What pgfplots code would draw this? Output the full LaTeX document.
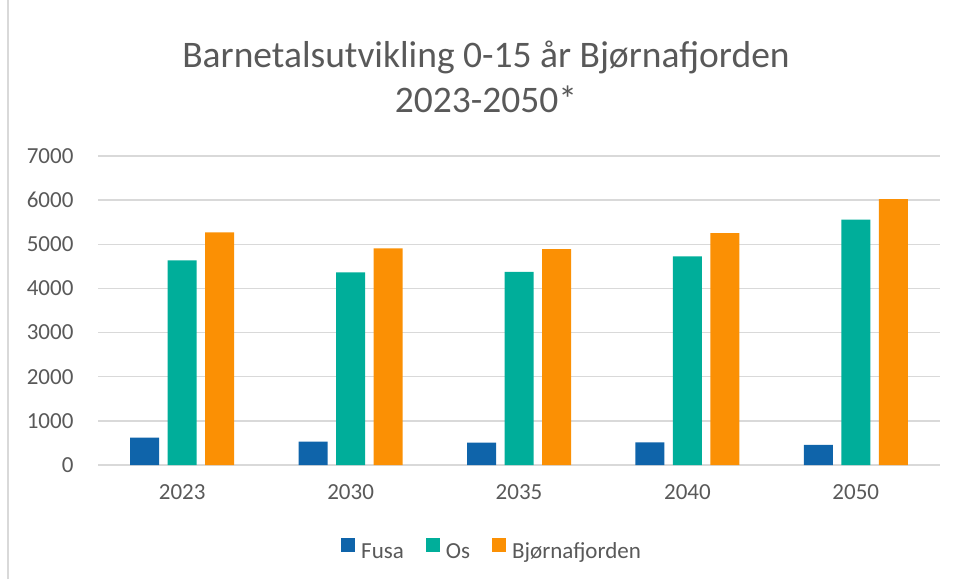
\documentclass[border=0pt]{standalone}
\usepackage{fontspec}
\setmainfont{Carlito}
\usepackage{pgfplots}
\pgfplotsset{compat=1.18}
\definecolor{fusa}{HTML}{0F64AA}
\definecolor{os}{HTML}{00AE9A}
\definecolor{bjorn}{HTML}{FB9004}
\definecolor{txt}{HTML}{595959}
\definecolor{gridc}{HTML}{D9D9D9}
\begin{document}
\begin{tikzpicture}[x=1pt,y=1pt]
\useasboundingbox (0,0) rectangle (958,579);
\draw[gridc, line width=1.5pt] (8,0) -- (8,579);
\node[anchor=base, text=txt, font=\fontsize{37.5}{42}\selectfont] at (486,511) {Barnetalsutvikling 0-15 år Bjørnafjorden};
\node[anchor=base, text=txt, font=\fontsize{37.5}{42}\selectfont] at (486,466) {2023-2050*};
\begin{axis}[
  at={(98pt,114pt)}, anchor=south west,
  scale only axis, width=842pt, height=309pt,
  xmin=-0.5, xmax=4.5, ymin=0, ymax=7000,
  ytick={0,1000,...,7000},
  xtick={0,1,2,3,4},
  xticklabels={2023,2030,2035,2040,2050},
  axis x line*=bottom, axis y line*=left,
  y axis line style={draw=none},
  x axis line style={gridc, line width=1.5pt, -},
  major tick length=0pt,
  ymajorgrids,
  grid style={gridc, line width=1.5pt},
  tick label style={font=\fontsize{23}{23}\selectfont, text=txt},
  yticklabel style={xshift=-21pt},
  xticklabel style={yshift=-16pt},
  /pgf/number format/assume math mode=true,
  /pgf/number format/1000 sep={},
  ybar=8.5pt, bar width=29pt,
  legend columns=3,
  legend style={draw=none, at={(0.468,-0.275)}, anchor=center,
    font=\fontsize{23}{23}\selectfont, text=txt,
    /tikz/every odd column/.append style={column sep=4pt},
    /tikz/every even column/.append style={column sep=20pt}},
  legend image code/.code={\fill[#1, draw=none] (0pt,0pt) rectangle (14pt,14pt);},
]
\addplot[fill=fusa, draw=none] coordinates {(0,619) (1,528) (2,506) (3,515) (4,454)};
\addplot[fill=os, draw=none] coordinates {(0,4633) (1,4361) (2,4376) (3,4724) (4,5556)};
\addplot[fill=bjorn, draw=none] coordinates {(0,5268) (1,4905) (2,4891) (3,5254) (4,6025)};
\legend{Fusa, Os, Bjørnafjorden}
\end{axis}
\end{tikzpicture}
\end{document}
